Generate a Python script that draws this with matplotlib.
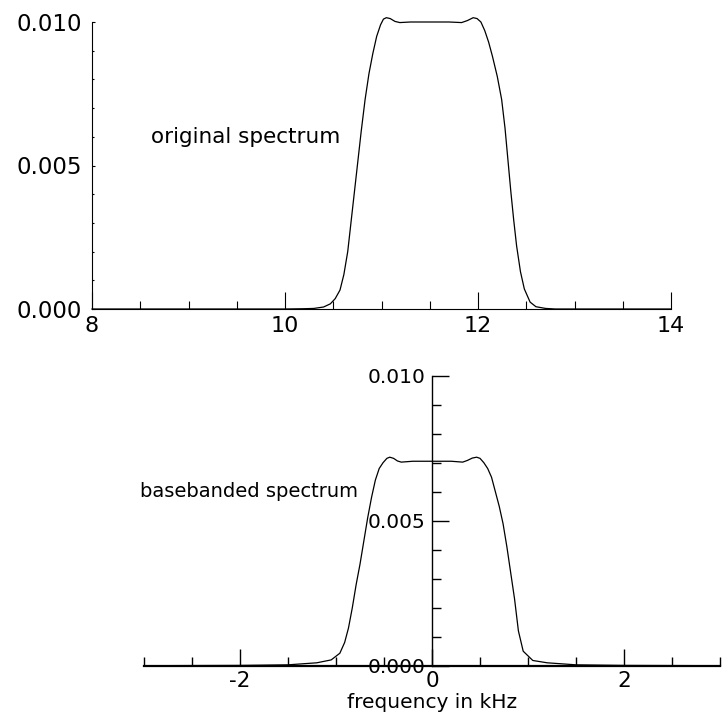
import matplotlib
matplotlib.use("Agg")
import matplotlib.pyplot as plt
from matplotlib.ticker import MultipleLocator, FormatStrFormatter

plt.rcParams['font.family'] = ['DejaVu Sans']
plt.rcParams['axes.unicode_minus'] = False

# Original spectrum (frequency in kHz, magnitude)
orig_freq = [8.0, 9.0, 10.0, 10.2, 10.3, 10.4, 10.47, 10.52, 10.57, 10.61, 10.65,
             10.68, 10.71, 10.75, 10.79, 10.83, 10.87, 10.91, 10.95, 10.99, 11.02,
             11.05, 11.09, 11.14, 11.19, 11.3, 11.5, 11.7, 11.83, 11.89, 11.95,
             11.99, 12.03, 12.07, 12.11, 12.15, 12.2, 12.245, 12.28, 12.31, 12.34,
             12.37, 12.4, 12.44, 12.48, 12.54, 12.6, 12.7, 12.8, 13.0, 14.0]
orig_mag = [0.0, 0.0, 0.0, 0.00001, 0.00002, 0.00007, 0.00018, 0.00036, 0.00066, 0.0012, 0.0020,
            0.0029, 0.0038, 0.0050, 0.0062, 0.0073, 0.0082, 0.0089, 0.0095, 0.0099, 0.01010,
            0.01015, 0.01012, 0.01002, 0.00998, 0.01000, 0.01000, 0.01000, 0.00998, 0.01005, 0.01015,
            0.01012, 0.01000, 0.0097, 0.0093, 0.0088, 0.0081, 0.0073, 0.0063, 0.0052, 0.0041,
            0.0031, 0.0022, 0.0013, 0.0007, 0.00024, 0.00008, 0.00002, 0.0, 0.0, 0.0]

# Basebanded spectrum
base_freq = [-3.0, -2.0, -1.5, -1.2, -1.05, -0.96, -0.91, -0.87, -0.83, -0.79, -0.75,
             -0.71, -0.67, -0.63, -0.59, -0.55, -0.51, -0.47, -0.44, -0.40, -0.36,
             -0.32, -0.2, 0.0, 0.2, 0.32, 0.37, 0.42, 0.465, 0.50, 0.54, 0.58,
             0.62, 0.66, 0.70, 0.74, 0.78, 0.82, 0.86, 0.90, 0.95, 1.05, 1.2, 1.5,
             2.0, 3.0]
base_mag = [0.0, 0.00001, 0.00003, 0.0001, 0.0002, 0.00043, 0.0008, 0.0013, 0.0020, 0.0028, 0.0035,
            0.0043, 0.0051, 0.0058, 0.0064, 0.0068, 0.0070, 0.00715, 0.00719, 0.00715, 0.00706,
            0.00702, 0.00705, 0.00705, 0.00705, 0.00702, 0.00708, 0.00716, 0.00719, 0.00715, 0.0070, 0.0068,
            0.0065, 0.0060, 0.0055, 0.0049, 0.0041, 0.0032, 0.0023, 0.0012, 0.0005, 0.00018, 0.0001, 0.00003,
            0.00001, 0.0]

fig = plt.figure(figsize=(7.25, 7.19), dpi=100)

# ---------- top axes ----------
ax1 = fig.add_axes([92/725, 1-309/719, (671-92)/725, (309-22)/719])
ax1.plot(orig_freq, orig_mag, color='black', lw=0.9, clip_on=False)
ax1.set_xlim(8, 14)
ax1.set_ylim(0, 0.010)
for s in ['top', 'right']:
    ax1.spines[s].set_visible(False)
for s in ['left', 'bottom']:
    ax1.spines[s].set_linewidth(0.8)
ax1.xaxis.set_major_locator(MultipleLocator(2))
ax1.xaxis.set_minor_locator(MultipleLocator(0.5))
ax1.yaxis.set_major_locator(MultipleLocator(0.005))
ax1.yaxis.set_minor_locator(MultipleLocator(0.001))
ax1.xaxis.set_major_formatter(FormatStrFormatter('%d'))
ax1.yaxis.set_major_formatter(FormatStrFormatter('%.3f'))
ax1.tick_params(axis='x', which='major', direction='in', length=12, width=0.8, pad=5, labelsize=16)
ax1.tick_params(axis='x', which='minor', direction='in', length=6, width=0.8)
ax1.tick_params(axis='y', which='major', direction='in', length=2, width=0.8, pad=7, labelsize=16.5)
ax1.tick_params(axis='y', which='minor', direction='in', length=1.5, width=0.8)
ax1.text(8.61, 0.0060, 'original spectrum', fontsize=15.5, ha='left', va='center')

# ---------- bottom axes ----------
ax2 = fig.add_axes([144/725, 1-665.7/719, (720-144)/725, (665.7-375.7)/719])
ax2.plot(base_freq, base_mag, color='black', lw=0.9, clip_on=False)
ax2.set_xlim(-3, 3)
ax2.set_ylim(0, 0.010)
for s in ['top', 'right']:
    ax2.spines[s].set_visible(False)
ax2.spines['left'].set_position(('data', 0))
ax2.spines['left'].set_linewidth(1.0)
ax2.spines['bottom'].set_linewidth(1.6)
ax2.xaxis.set_major_locator(MultipleLocator(2))
ax2.xaxis.set_minor_locator(MultipleLocator(0.5))
ax2.yaxis.set_major_locator(MultipleLocator(0.005))
ax2.yaxis.set_minor_locator(MultipleLocator(0.001))
ax2.xaxis.set_major_formatter(FormatStrFormatter('%d'))
ax2.yaxis.set_major_formatter(FormatStrFormatter('%.3f'))
ax2.tick_params(axis='x', which='major', direction='in', length=12, width=1.0, pad=4, labelsize=15.5)
ax2.tick_params(axis='x', which='minor', direction='in', length=6.5, width=1.0)
ax2.tick_params(axis='y', which='major', direction='in', length=12, width=1.0, pad=5, labelsize=14.5)
ax2.tick_params(axis='y', which='minor', direction='in', length=6.5, width=1.0)
ax2.set_xlabel('frequency in kHz', fontsize=14.5, labelpad=1)
ax2.text(-0.77, 0.0060, 'basebanded spectrum', fontsize=14, ha='right', va='center')

fig.savefig('out.png', dpi=100)
